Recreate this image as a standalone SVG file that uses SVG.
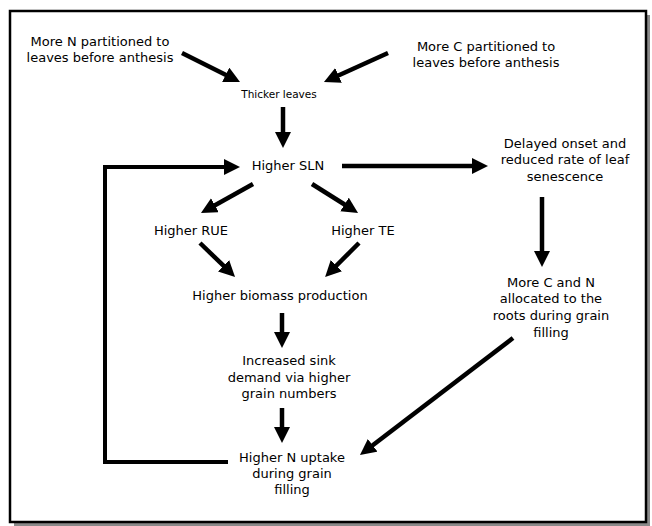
<svg xmlns="http://www.w3.org/2000/svg" width="652" height="526" viewBox="0 0 652 526">
<style>
text { font-family: "DejaVu Sans", "Liberation Sans", sans-serif; font-size: 13px; fill: #000; text-anchor: middle; }
.small { font-size: 10.5px; }
.conn { stroke: #000; stroke-width: 4.5; fill: none; marker-end: url(#ah); }
.loop { stroke: #000; stroke-width: 4; fill: none; stroke-linejoin: miter; }
</style>
<defs>
<marker id="ah" markerUnits="userSpaceOnUse" markerWidth="18" markerHeight="18" refX="2" refY="8" orient="auto">
<path d="M0,0 L16,8 L0,16 z" fill="#000"/>
</marker>
</defs>
<rect x="0" y="0" width="652" height="526" fill="#fff"/>
<rect x="14" y="15" width="636" height="511" fill="#8a8a8a"/>
<rect x="10" y="11" width="636" height="511" fill="#fff" stroke="#000" stroke-width="2.5"/>

<g id="connectors">
<line class="conn" x1="182" y1="53" x2="227.5" y2="75.7"/>
<line class="conn" x1="388" y1="53" x2="336.7" y2="76.2"/>
<line class="conn" x1="283" y1="107" x2="283" y2="134"/>
<path class="loop" d="M228,462 H105 V167 H226" marker-end="url(#ah)"/>
<line class="conn" x1="342" y1="166" x2="474" y2="166"/>
<line class="conn" x1="542" y1="197" x2="542" y2="253"/>
<line class="conn" x1="253" y1="184" x2="213.2" y2="206.2"/>
<line class="conn" x1="312" y1="184" x2="346.2" y2="205.5"/>
<line class="conn" x1="200" y1="243" x2="225" y2="267.2"/>
<line class="conn" x1="359" y1="243" x2="335" y2="267"/>
<line class="conn" x1="282" y1="313" x2="282" y2="334"/>
<line class="conn" x1="282" y1="408" x2="282" y2="429"/>
<line class="conn" x1="513" y1="338" x2="371.1" y2="446.5"/>
</g>

<g id="n-more-n"><text x="100" y="46">More N partitioned to</text><text x="100" y="62">leaves before anthesis</text></g>
<g id="n-more-c"><text x="486" y="51">More C partitioned to</text><text x="486" y="67">leaves before anthesis</text></g>
<g id="n-thicker"><text class="small" x="279" y="98">Thicker leaves</text></g>
<g id="n-sln"><text x="288" y="170">Higher SLN</text></g>
<g id="n-delayed"><text x="565" y="148">Delayed onset and</text><text x="565" y="164">reduced rate of leaf</text><text x="565" y="181">senescence</text></g>
<g id="n-rue"><text x="191" y="235">Higher RUE</text></g>
<g id="n-te"><text x="363" y="235">Higher TE</text></g>
<g id="n-biomass"><text x="280" y="300">Higher biomass production</text></g>
<g id="n-roots"><text x="551" y="287">More C and N</text><text x="551" y="303">allocated to the</text><text x="551" y="320">roots during grain</text><text x="551" y="337">filling</text></g>
<g id="n-sink"><text x="289" y="365">Increased sink</text><text x="289" y="382">demand via higher</text><text x="289" y="398">grain numbers</text></g>
<g id="n-uptake"><text x="292" y="462">Higher N uptake</text><text x="292" y="478">during grain</text><text x="292" y="494">filling</text></g>
</svg>
